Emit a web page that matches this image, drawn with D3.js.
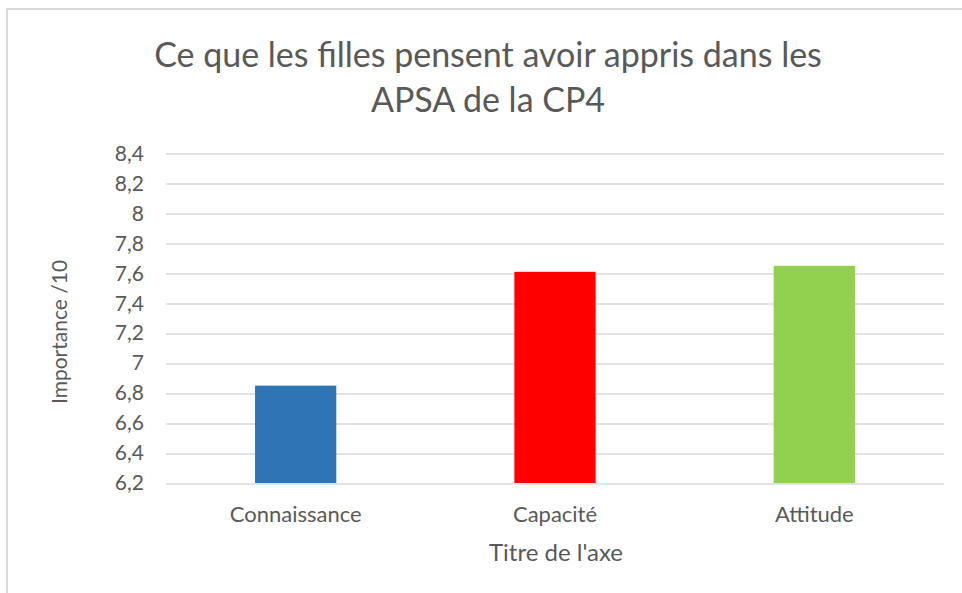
<!DOCTYPE html>
<html>
<head>
<meta charset="utf-8">
<script src="https://cdn.jsdelivr.net/npm/d3@7"></script>
<style>
  body { margin: 0; background: #fff; }
  svg { display: block; font-family: Lato, "Open Sans", sans-serif; }
</style>
</head>
<body>
<svg width="962" height="593"></svg>
<script>
// chart data
var categories = ["Connaissance", "Capacité", "Attitude"];
var values = [6.85, 7.61, 7.65];
var barColors = ["#2e75b6", "#ff0000", "#92d050"];
var yTicks = [6.2, 6.4, 6.6, 6.8, 7, 7.2, 7.4, 7.6, 7.8, 8, 8.2, 8.4];
var titleLines = ["Ce que les filles pensent avoir appris dans les", "APSA de la CP4"];

var svg = d3.select("svg");
var margin = {top: 153.5, left: 166, right: 18, bottom: 110};
var width = 962 - margin.left - margin.right;
var height = 593 - margin.top - margin.bottom;

// outer frame of the chart area
svg.append("path")
    .attr("d", "M7,593 V9 H962")
    .attr("fill", "none")
    .attr("stroke", "#d9d9d9")
    .attr("stroke-width", 2);

var x = d3.scaleBand().domain(categories).range([0, width]).paddingInner(0.6866).paddingOuter(0.3433);
var y = d3.scaleLinear().domain([6.2, 8.4]).range([height, 0]);

var g = svg.append("g")
    .attr("transform", "translate(" + margin.left + "," + margin.top + ")");

// gridlines
g.append("g")
    .selectAll("line")
    .data(yTicks)
    .enter().append("line")
    .attr("x1", 0)
    .attr("x2", width)
    .attr("y1", function(d) { return Math.round(y(d)) + 0.5; })
    .attr("y2", function(d) { return Math.round(y(d)) + 0.5; })
    .attr("stroke", "#d9d9d9")
    .attr("stroke-width", 1.5);

// y axis labels
var fmt = function(d) { return String(+d.toFixed(1)).replace(".", ","); };
var yAxis = g.append("g")
    .call(d3.axisLeft(y).tickValues(yTicks).tickFormat(fmt).tickSize(0).tickPadding(22));
yAxis.select(".domain").remove();
yAxis.selectAll("text")
    .attr("fill", "#595959")
    .style("font-size", "21px")
    .style("font-family", "Lato, sans-serif");

// bars
g.selectAll(".bar")
    .data(values)
    .enter().append("rect")
    .attr("class", "bar")
    .attr("x", function(d, i) { return x(categories[i]); })
    .attr("y", function(d) { return y(d); })
    .attr("width", x.bandwidth())
    .attr("height", function(d) { return height - y(d); })
    .attr("fill", function(d, i) { return barColors[i]; });

// x axis labels
var xAxis = g.append("g")
    .attr("transform", "translate(0," + height + ")")
    .call(d3.axisBottom(x).tickSize(0).tickPadding(23));
xAxis.select(".domain").remove();
xAxis.selectAll("text")
    .attr("fill", "#595959")
    .style("font-size", "22px")
    .style("font-family", "Lato, sans-serif");

// title
svg.append("g").selectAll("text")
    .data(titleLines)
    .enter().append("text")
    .attr("x", 488)
    .attr("y", function(d, i) { return 67 + i * 45; })
    .attr("text-anchor", "middle")
    .attr("fill", "#595959")
    .style("font-size", "34px")
    .text(function(d) { return d; });

// axis titles
svg.append("text")
    .attr("transform", "translate(67,332) rotate(-90)")
    .attr("text-anchor", "middle")
    .attr("fill", "#595959")
    .style("font-size", "21px")
    .text("Importance /10");

svg.append("text")
    .attr("x", 556)
    .attr("y", 561)
    .attr("text-anchor", "middle")
    .attr("fill", "#595959")
    .style("font-size", "24px")
    .text("Titre de l'axe");
</script>
</body>
</html>
